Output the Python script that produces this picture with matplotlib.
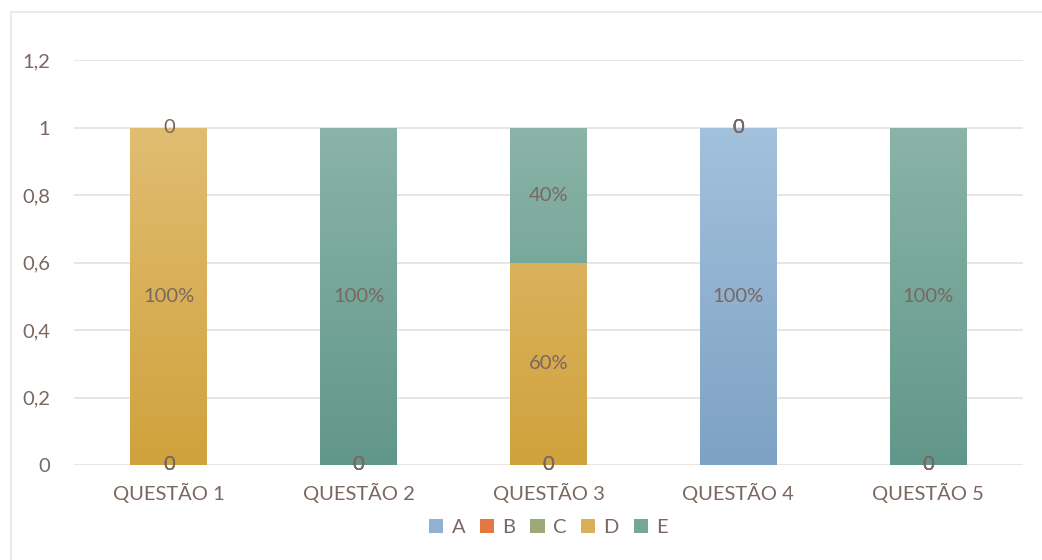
import numpy as np
import matplotlib
matplotlib.use("Agg")
import matplotlib.pyplot as plt
from matplotlib.patches import Rectangle

questoes = ['QUESTÃO 1', 'QUESTÃO 2', 'QUESTÃO 3', 'QUESTÃO 4', 'QUESTÃO 5']
series = ['A', 'B', 'C', 'D', 'E']
valores = {
    'A': [0, 0, 0, 1.0, 0],
    'B': [0, 0, 0, 0, 0],
    'C': [0, 0, 0, 0, 0],
    'D': [1.0, 0, 0.6, 0, 0],
    'E': [0, 1.0, 0.4, 0, 1.0],
}
# top / bottom colours of each series' gradient fill
cores = {
    'A': ('#a2c1dc', '#7ea2c4'),
    'B': ('#ec8b55', '#d9672c'),
    'C': ('#aab487', '#8e9b66'),
    'D': ('#e1bd72', '#d0a23c'),
    'E': ('#8ab4a7', '#61978a'),
}
texto = '#7a6760'
grade = '#e8e3e0'
fs = 14.5

plt.rcParams['font.family'] = ['Lato', 'DejaVu Sans']

fig = plt.figure(figsize=(10.42, 5.6), dpi=100)
fig.patches.append(Rectangle((11 / 1042, -0.1), 1.2, (560 - 12) / 560 + 0.1,
                             transform=fig.transFigure, fill=False,
                             edgecolor='#ebe6e3', linewidth=1.2, zorder=0))
ax = fig.add_axes([74 / 1042, 95 / 560, 949 / 1042, 405 / 560])

x = np.arange(len(questoes))
largura = 0.405
base = np.zeros(len(questoes))
rotulos = []
for s in series:
    v = np.array(valores[s])
    cmap = matplotlib.colors.LinearSegmentedColormap.from_list(s, [cores[s][1], cores[s][0]])
    barras = ax.bar(x, v, largura, bottom=base, color=cmap(0.5), zorder=2,
                    linewidth=0, label=s)
    grad = np.linspace(0, 1, 256).reshape(-1, 1)
    for b in barras:
        if b.get_height() <= 0:
            continue
        im = ax.imshow(grad, cmap=cmap, aspect='auto', origin='lower',
                       extent=[b.get_x(), b.get_x() + b.get_width(), 0, 1],
                       zorder=3)
        im.set_clip_path(b)
    for i in range(len(questoes)):
        rotulos.append((x[i], base[i] + v[i] / 2, v[i]))
    base += v

for xi, yi, v in rotulos:
    txt = '0' if v == 0 else f'{v:.0%}'
    ax.text(xi, yi, txt, ha='center', va='center', color=texto,
            fontsize=fs, zorder=5)

ax.set_xlim(-0.5, len(questoes) - 0.5)
ax.set_ylim(0, 1.2)
ax.set_yticks(np.arange(0, 1.21, 0.2))
ax.set_yticklabels(['0', '0,2', '0,4', '0,6', '0,8', '1', '1,2'])
ax.set_xticks(x)
ax.set_xticklabels(questoes)
ax.tick_params(length=0, colors=texto, labelsize=fs)
ax.tick_params(axis='y', pad=17)
ax.tick_params(axis='x', pad=13)
ax.grid(axis='y', color=grade, linewidth=1.3, zorder=0)
ax.set_axisbelow(True)
for sp in ax.spines.values():
    sp.set_visible(False)

leg = ax.legend(loc='center', bbox_to_anchor=(0.5, -0.155), ncol=5,
                frameon=False, fontsize=fs, handlelength=0.7, handleheight=0.7,
                handletextpad=0.4, columnspacing=0.75, labelcolor=texto)

fig.savefig('out.png', dpi=100)
